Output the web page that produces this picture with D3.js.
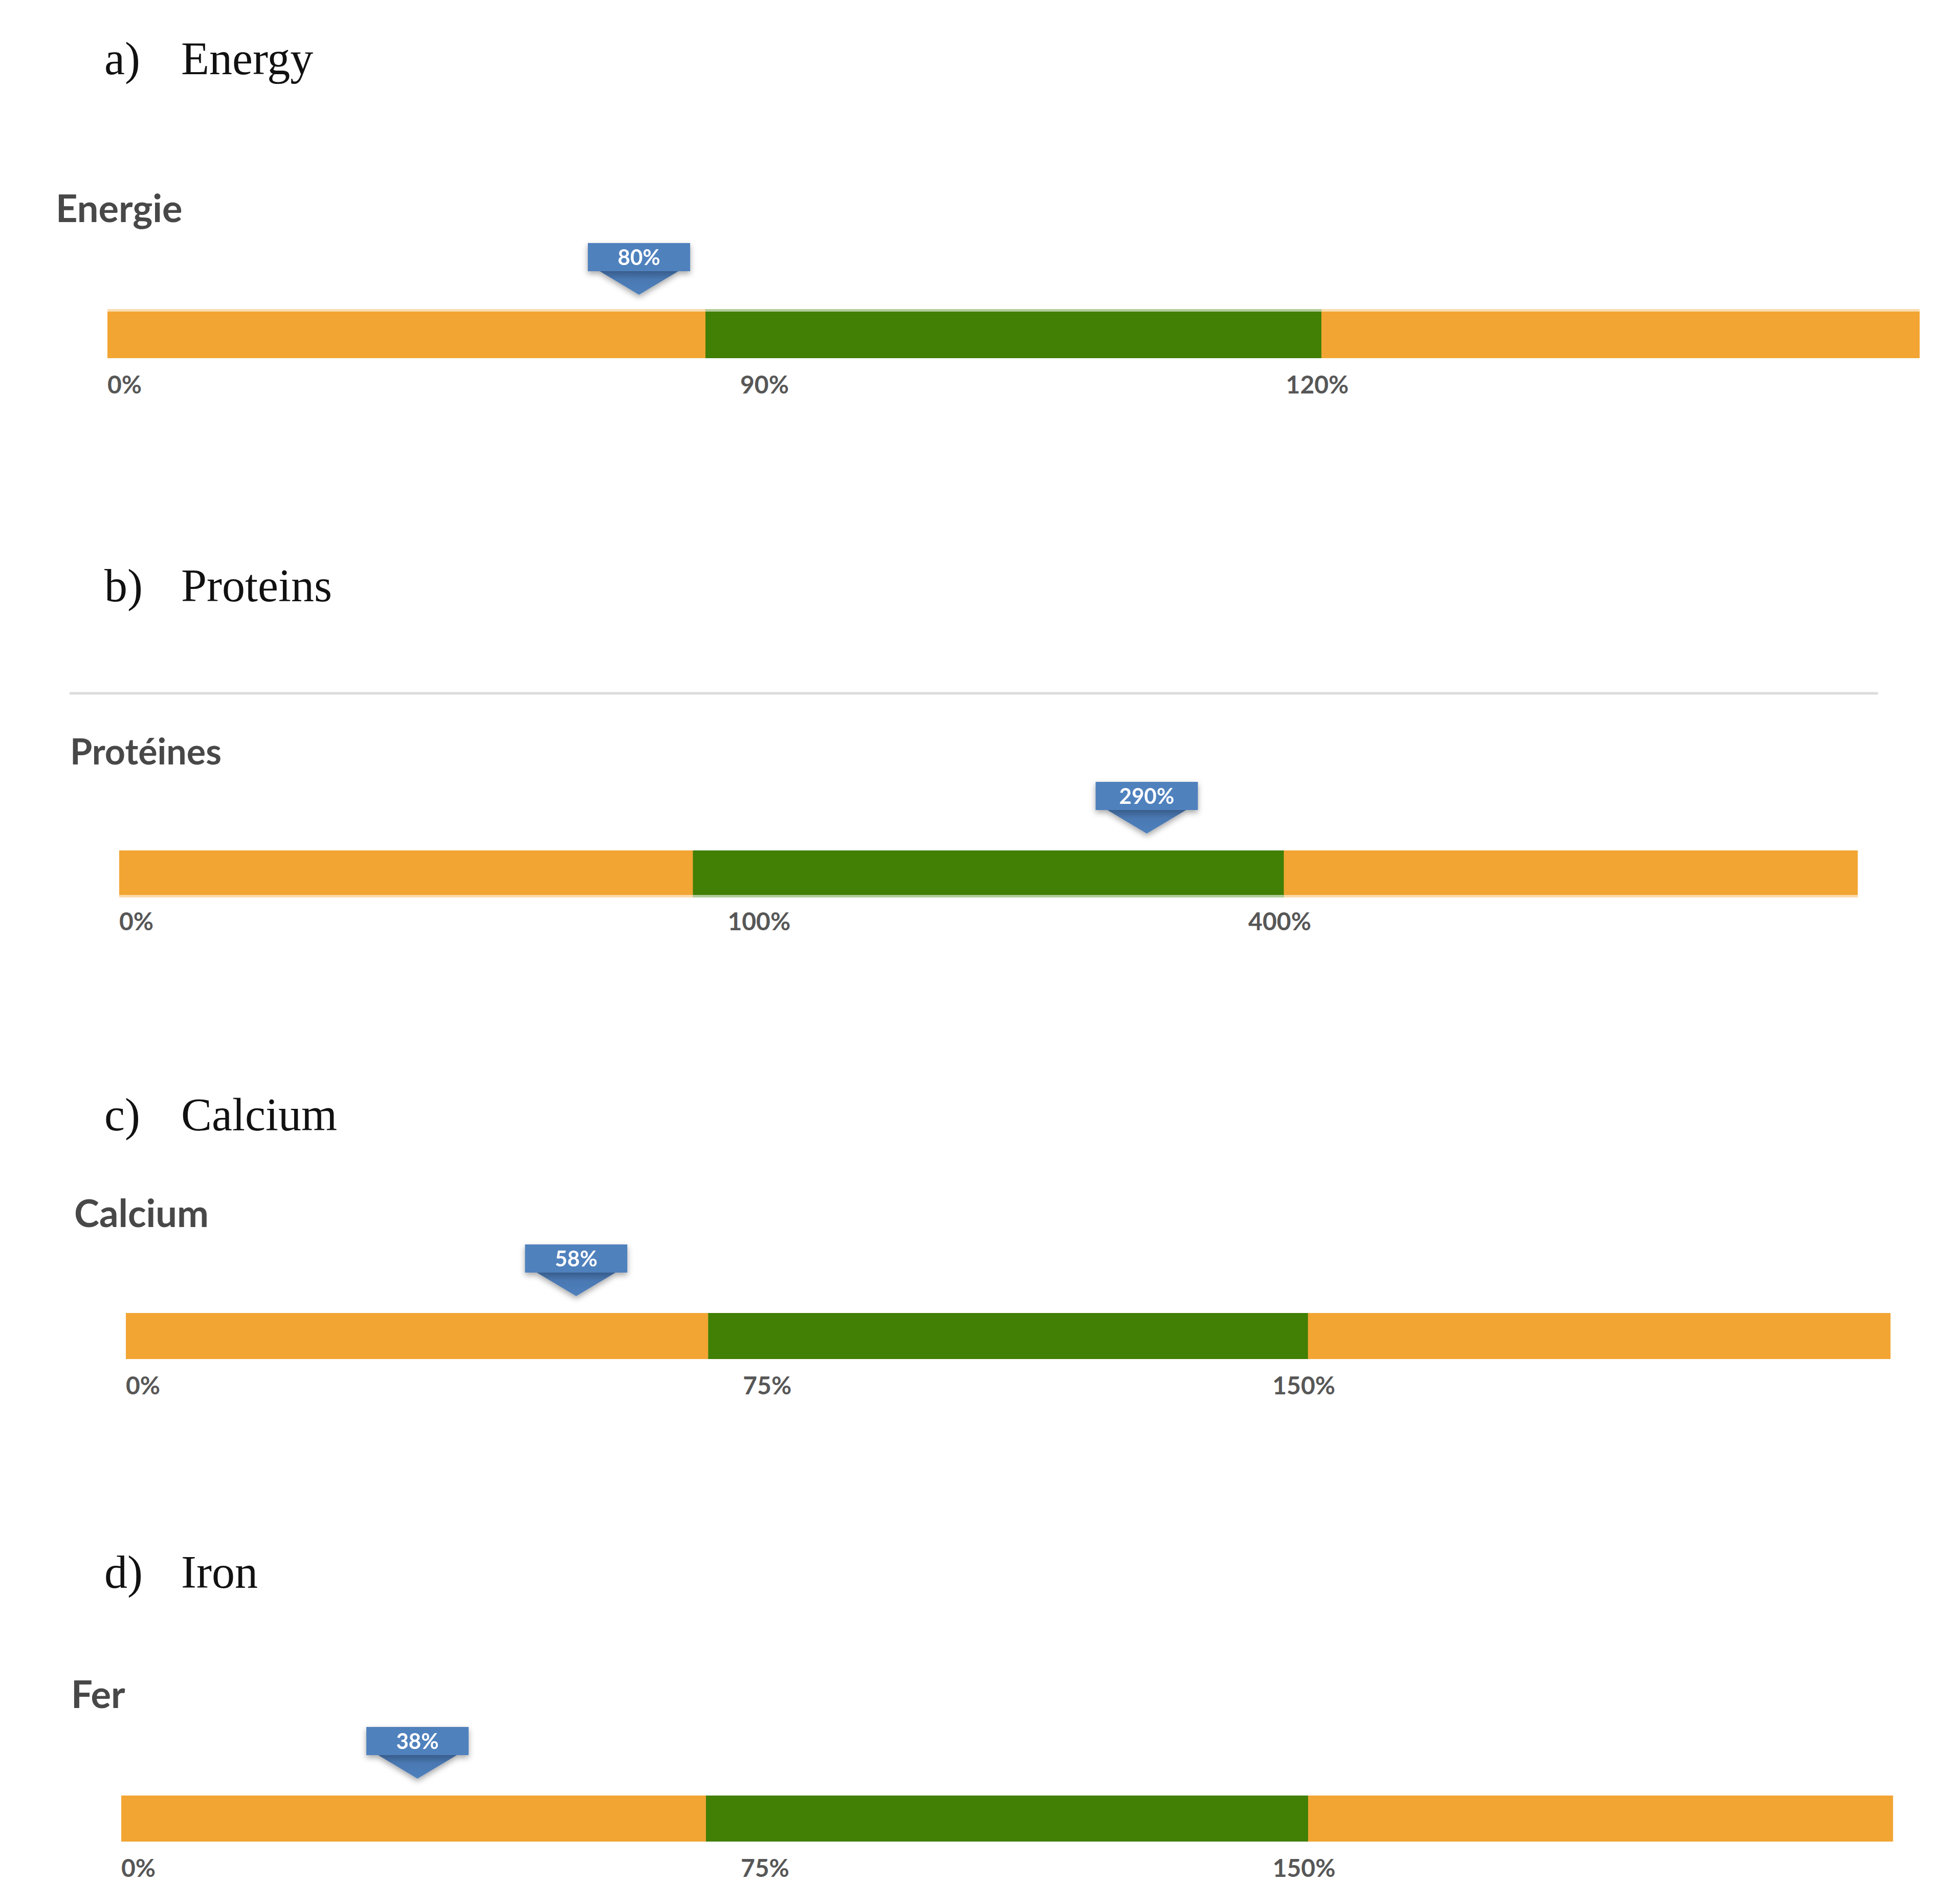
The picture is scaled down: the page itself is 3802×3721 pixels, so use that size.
<!DOCTYPE html>
<html>
<head>
<meta charset="utf-8">
<script src="https://cdn.jsdelivr.net/npm/d3@7"></script>
<style>
  body { margin: 0; background: #fff; }
  svg { display: block; }
</style>
</head>
<body>
<svg width="3802" height="3721"></svg>
<script>
// data
const panelTags = ["a)", "b)", "c)", "d)"];
const panelTitles = ["Energy", "Proteins", "Calcium", "Iron"];
const gaugeNames = ["Energie", "Protéines", "Calcium", "Fer"];
const lowBounds = [90, 100, 75, 75];     // start of the recommended (green) band, %
const highBounds = [120, 400, 150, 150]; // end of the recommended band, %
const intakes = [80, 290, 58, 38];       // observed intake, %
const zones = ["low", "ok", "high"];

// layout of each block (pixels)
const zoneWeights = [1, 1.03, 1];
const layout = [
    { titleY: 145,  nameX: 109, nameY: 434,  nameSize: 74, x0: 210, x1: 3752, barY: 609,  barH: 91, haze: "top" },
    { titleY: 1175, nameX: 137, nameY: 1494, nameSize: 70, x0: 233, x1: 3631, barY: 1662, barH: 87, haze: "bottom" },
    { titleY: 2209, nameX: 145, nameY: 2398, nameSize: 74, x0: 246, x1: 3695, barY: 2566, barH: 90, haze: null },
    { titleY: 3103, nameX: 139, nameY: 3338, nameSize: 74, x0: 237, x1: 3700, barY: 3509, barH: 90, haze: null }
];

const zoneColor = d3.scaleOrdinal()
    .domain(zones)
    .range(["#f2a533", "#417f05", "#f2a533"]);

const svg = d3.select("svg");

// drop shadow for the value marker
const defs = svg.append("defs");
defs.append("filter")
    .attr("id", "shadow")
    .attr("x", "-30%").attr("y", "-30%")
    .attr("width", "160%").attr("height", "170%")
    .append("feDropShadow")
    .attr("dx", 0).attr("dy", 5)
    .attr("stdDeviation", 6)
    .attr("flood-color", "#000")
    .attr("flood-opacity", 0.35);

const grad = defs.append("linearGradient")
    .attr("id", "tipShade")
    .attr("x1", 0).attr("y1", 0).attr("x2", 0).attr("y2", 1);
grad.append("stop").attr("offset", "0%").attr("stop-color", "#385d8c");
grad.append("stop").attr("offset", "35%").attr("stop-color", "#4a78b2");
grad.append("stop").attr("offset", "100%").attr("stop-color", "#4f81bd");

// gauge scale: three bands side by side, value placed inside its band
function gaugeScale(low, high, x0, x1) {
    const cum = d3.cumsum(zoneWeights);
    const pos = d3.scaleLinear().domain([0, cum[cum.length - 1]]).range([x0, x1]);
    const edges = [x0].concat(Array.from(cum, c => pos(c)));
    const under = d3.scaleLinear().domain([0, low]).range([edges[0], edges[1]]);
    const within = d3.scaleLog().domain([low, high]).range([edges[1], edges[2]]);
    const f = v => (v <= low ? under(v) : within(Math.min(v, high)));
    f.zoneStart = d => edges[zones.indexOf(d)];
    f.zoneWidth = d => edges[zones.indexOf(d) + 1] - edges[zones.indexOf(d)];
    return f;
}

panelTitles.forEach((title, i) => {
    const L = layout[i];
    const x = gaugeScale(lowBounds[i], highBounds[i], L.x0, L.x1);
    const g = svg.append("g");

    // heading
    g.append("text")
        .attr("x", 204).attr("y", L.titleY)
        .attr("font-family", "Liberation Serif, serif")
        .attr("font-size", 90)
        .attr("fill", "#111")
        .text(panelTags[i]);
    g.append("text")
        .attr("x", 354).attr("y", L.titleY)
        .attr("font-family", "Liberation Serif, serif")
        .attr("font-size", 90)
        .attr("fill", "#111")
        .text(title);

    // gauge name
    g.append("text")
        .attr("x", L.nameX).attr("y", L.nameY)
        .attr("font-family", "Lato, sans-serif")
        .attr("font-weight", 700)
        .attr("font-size", L.nameSize)
        .attr("fill", "#484848")
        .text(gaugeNames[i]);

    // zones
    g.selectAll("rect.zone")
        .data(zones)
        .join("rect")
        .attr("class", "zone")
        .attr("x", d => x.zoneStart(d))
        .attr("y", L.barY)
        .attr("width", d => x.zoneWidth(d) + 0.5)
        .attr("height", L.barH)
        .attr("fill", d => zoneColor(d));

    // soft edge of the bar seen in the source image
    if (L.haze) {
        g.selectAll("rect.haze")
            .data(zones)
            .join("rect")
            .attr("class", "haze")
            .attr("x", d => x.zoneStart(d))
            .attr("y", L.haze === "top" ? L.barY - 5 : L.barY + L.barH)
            .attr("width", d => x.zoneWidth(d) + 0.5)
            .attr("height", 5)
            .attr("fill", d => zoneColor(d))
            .attr("opacity", 0.4);
    }

    // tick labels
    const tickY = L.barY + L.barH + 69;
    const ticks = [
        { v: 0, dx: 0, anchor: "start" },
        { v: lowBounds[i], dx: 68, anchor: "start" },
        { v: highBounds[i], dx: -8, anchor: "middle" }
    ];
    g.selectAll("text.tick")
        .data(ticks)
        .join("text")
        .attr("class", "tick")
        .attr("x", d => x(d.v) + d.dx)
        .attr("y", tickY)
        .attr("text-anchor", d => d.anchor)
        .attr("font-family", "Lato, sans-serif")
        .attr("font-weight", 700)
        .attr("font-size", 48)
        .attr("fill", "#575757")
        .text(d => d.v + "%");

    // value marker
    const tipY = L.barY - 33;
    const m = g.append("g")
        .attr("transform", `translate(${x(intakes[i])},${tipY})`)
        .attr("filter", "url(#shadow)");
    m.append("path")
        .attr("d", "M-77,-46 L77,-46 L0,0 Z")
        .attr("fill", "url(#tipShade)");
    m.append("rect")
        .attr("x", -100).attr("y", -101)
        .attr("width", 200).attr("height", 55)
        .attr("fill", "#4f81bd");
    m.append("text")
        .attr("x", 0).attr("y", -58)
        .attr("text-anchor", "middle")
        .attr("font-family", "Lato, sans-serif")
        .attr("font-weight", 700)
        .attr("font-size", 42)
        .attr("fill", "#fff")
        .text(intakes[i] + "%");
});

// thin rule under the Proteins heading
svg.append("line")
    .attr("x1", 136).attr("x2", 3671)
    .attr("y1", 1355).attr("y2", 1355)
    .attr("stroke", "#dcdcdc")
    .attr("stroke-width", 5);
</script>
</body>
</html>
